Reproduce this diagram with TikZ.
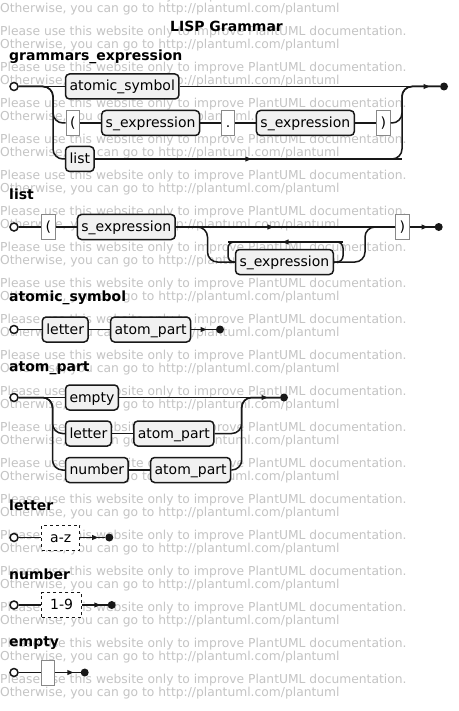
\documentclass[tikz,border=0pt]{standalone}
\usepackage{fontspec}
\setmainfont{DejaVu Sans}
\usetikzlibrary{positioning,decorations.markings}
\definecolor{railink}{HTML}{181818}
\definecolor{boxfill}{HTML}{F1F1F1}
\definecolor{termline}{HTML}{888888}
\definecolor{wmgray}{HTML}{C4C4C4}

\begin{document}
\begin{tikzpicture}[
x=1pt, y=-1pt,
node distance = 21pt,
rail/.style={draw=railink, line width=1.5pt, rounded corners=10pt},
flow/.style={postaction={decorate}, decoration={markings,
  mark=at position #1 with {\fill[railink, sharp corners] (3pt,0pt) -- (-3pt,2.6pt) -- (-3pt,-2.6pt) -- cycle;}}},
flow/.default=0.5,
rule/.style={rectangle, rounded corners=4pt, draw=railink, fill=boxfill, line width=1.5pt,
  minimum height=25pt, inner xsep=4pt, inner ysep=0pt, text height=12pt, text depth=3pt,
  font=\fontsize{14}{16}\selectfont},
term/.style={rectangle, draw=termline, fill=white, line width=1pt,
  minimum height=25pt, inner xsep=4pt, inner ysep=0pt, text height=12pt, text depth=3pt,
  font=\fontsize{14}{16}\selectfont},
special/.style={term, draw=railink, dash pattern=on 3pt off 3pt, inner xsep=8.5pt},
startpt/.style={circle, draw=railink, fill=white, line width=1.5pt, minimum size=8pt, inner sep=0pt},
endpt/.style={circle, fill=railink, minimum size=8pt, inner sep=0pt},
heading/.style={anchor=base west, inner sep=0pt, font=\fontsize{14}{16}\selectfont\bfseries},
wm/.style={anchor=base west, inner sep=0pt, text=wmgray, font=\fontsize{12.3}{14}\selectfont},
]
\useasboundingbox (0,0) rectangle (458,711);
\fill[white] (0,0) rectangle (458,711);
\foreach \k in {-1,...,18} {
  \node[wm] (wmp\k) at (0,35.5+36*\k) {Please use this website only to improve PlantUML documentation.};
  \node[wm] (wmo\k) at (0,48.3+36*\k) {Otherwise, you can go to http://plantuml.com/plantuml};
}

\node[heading, anchor=base] (title) at (226.5,32) {LISP Grammar};

\node[heading] (h1) at (9,60.5) {grammars\_expression};
\node[startpt] (gs) at (14,86.5) {};
\node[rule, anchor=west] (gas) at (64.75,86.5) {atomic\_symbol};
\node[term, anchor=west] (glp) at (65.5,123) {(};
\node[rule, right=of glp] (gsx1) {s\_expression};
\node[term, right=of gsx1] (gpt) {.};
\node[rule, right=of gpt] (gsx2) {s\_expression};
\node[term, right=of gsx2] (grp) {)};
\node[rule, anchor=west] (glist) at (64.75,159) {list};
\node[endpt] (gend) at (444,86.5) {};
\coordinate (gl) at (53,86.5);
\coordinate (gr) at (402,86.5);
\coordinate (g3r) at (402,159);
\draw[rail] (gs) -- (gas);
\draw[rail] (gas) -- (gr);
\draw[rail,flow=0.65] (gr) -- (gend);
\draw[rail] (gs) -- (gl) |- (glp);
\draw[rail] (glp) -- (gsx1);
\draw[rail] (gsx1) -- (gpt);
\draw[rail] (gpt) -- (gsx2);
\draw[rail] (gsx2) -- (grp);
\draw[rail] (grp) -| (gr) -- (gend);
\draw[rail] (gs) -- (gl) |- (glist);
\draw[rail,flow] (glist) -- (g3r);
\draw[rail] (glist) -| (gr) -- (gend);

\node[heading] (h2) at (9,199.5) {list};
\node[startpt] (ls) at (14,227) {};
\node[term, anchor=west] (llp) at (41.2,227) {(};
\node[rule, right=of llp] (lsx) {s\_expression};
\node[rule, anchor=west] (lrep) at (234.75,262) {s\_expression};
\node[term, anchor=west] (lrp) at (395.2,227) {)};
\node[endpt] (lend) at (438.7,227) {};
\coordinate (ll) at (207.5,227);
\coordinate (lr) at (365,227);
\coordinate (lpa) at (343,242);
\coordinate (lpb) at (228,242);
\draw[rail] (ls) -- (llp);
\draw[rail] (llp) -- (lsx);
\draw[rail,flow] (lsx) -- (lr);
\draw[rail] (lr) -- (lrp);
\draw[rail,flow=0.6] (lrp) -- (lend);
\draw[rail] (lsx) -- (ll) |- (lrep);
\draw[rail] (lrep) -| (lr) -- (lrp);
\draw[rail, rounded corners=6pt] (lrep) -| (lpa) -- (lpb) |- (lrep);
\draw[rail,flow] (lpa) -- (lpb);

\node[heading] (h3) at (9,301.7) {atomic\_symbol};
\node[startpt] (as) at (14,329.5) {};
\node[rule, anchor=west] (alt) at (41.5,329.5) {letter};
\node[rule, right=of alt] (aap) {atom\_part};
\node[endpt] (aend) at (220,329.5) {};
\draw[rail] (as) -- (alt);
\draw[rail] (alt) -- (aap);
\draw[rail,flow] (aap) -- (aend);

\node[heading] (h4) at (9,371.3) {atom\_part};
\node[startpt] (ps) at (14,397.5) {};
\node[rule, anchor=west] (pemp) at (64.75,397.5) {empty};
\node[rule, anchor=west] (plet) at (64.75,433.5) {letter};
\node[rule, right=of plet] (pap1) {atom\_part};
\node[rule, anchor=west] (pnum) at (64.75,470) {number};
\node[rule, right=of pnum] (pap2) {atom\_part};
\node[endpt] (pend) at (284,397.5) {};
\coordinate (pl) at (52.5,397.5);
\coordinate (pr) at (241.7,397.5);
\draw[rail] (ps) -- (pemp);
\draw[rail] (pemp) -- (pr);
\draw[rail,flow=0.6] (pr) -- (pend);
\draw[rail] (ps) -- (pl) |- (plet);
\draw[rail] (plet) -- (pap1);
\draw[rail] (pap1) -| (pr) -- (pend);
\draw[rail] (ps) -- (pl) |- (pnum);
\draw[rail] (pnum) -- (pap2);
\draw[rail] (pap2) -| (pr) -- (pend);

\node[heading] (h5) at (9,510) {letter};
\node[startpt] (ts) at (14,537.5) {};
\node[special, anchor=west] (taz) at (41.2,537.5) {a-z};
\node[endpt] (tend) at (109.3,537.5) {};
\draw[rail] (ts) -- (taz);
\draw[rail,flow=0.6] (taz) -- (tend);

\node[heading] (h6) at (9,579) {number};
\node[startpt] (ns) at (14,605) {};
\node[special, anchor=west] (n19) at (41.2,605) {1-9};
\node[endpt] (nend) at (111.7,605) {};
\draw[rail] (ns) -- (n19);
\draw[rail,flow=0.6] (n19) -- (nend);

\node[heading] (h7) at (9,646.5) {empty};
\node[startpt] (es) at (14,672.5) {};
\node[term, anchor=west, minimum width=13pt] (ebox) at (41.2,672.5) {};
\node[endpt] (eend) at (84.7,672.5) {};
\draw[rail] (es) -- (ebox);
\draw[rail,flow=0.6] (ebox) -- (eend);
\end{tikzpicture}
\end{document}
